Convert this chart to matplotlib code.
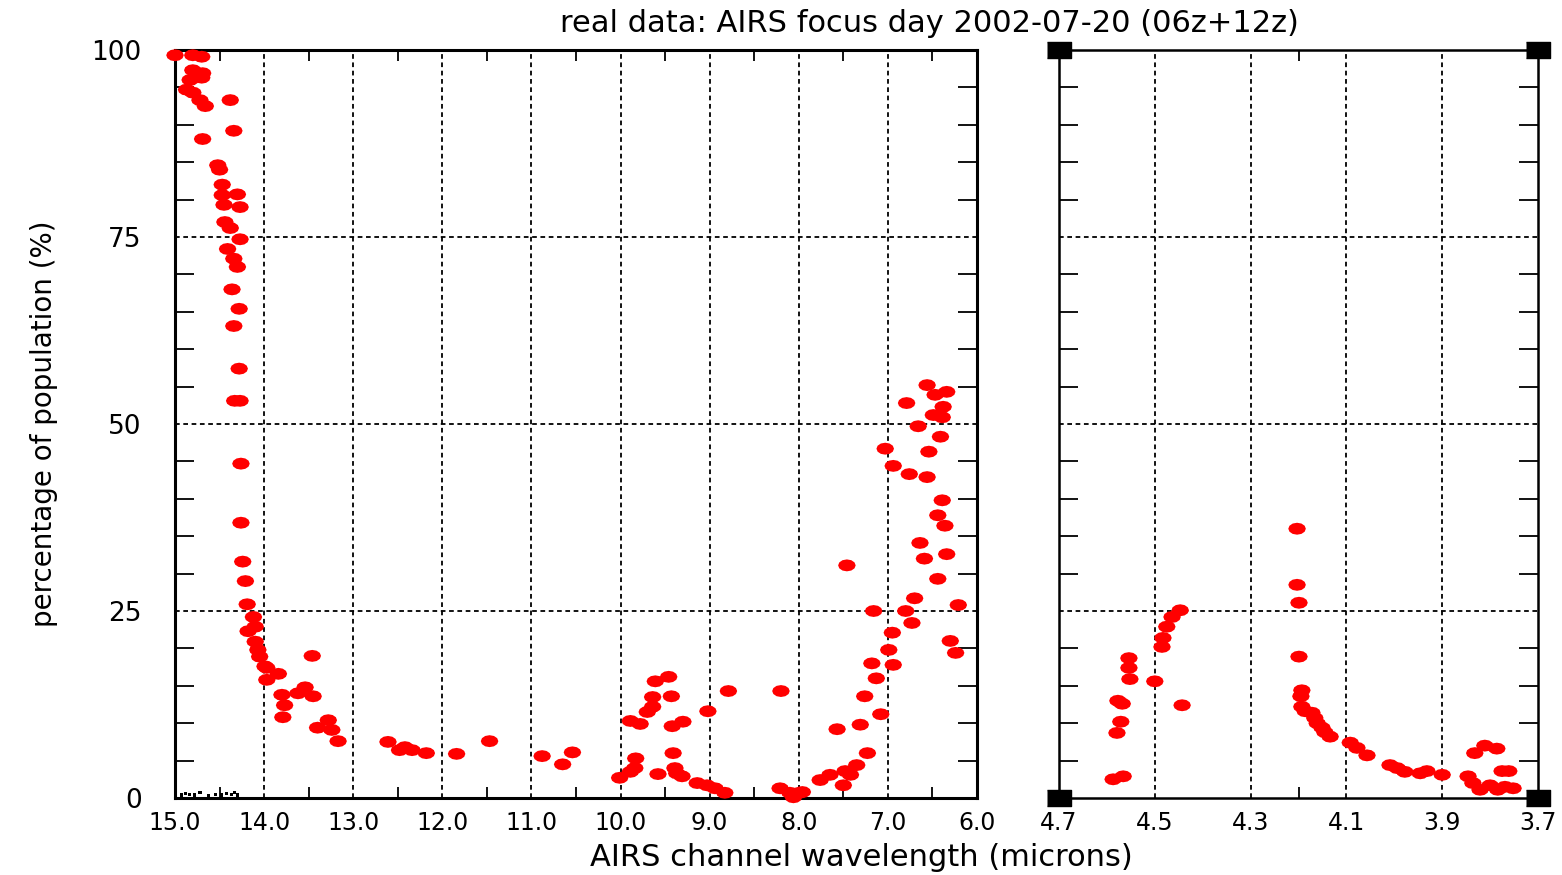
import numpy as np
import matplotlib
matplotlib.use("Agg")
import matplotlib.pyplot as plt
from matplotlib.ticker import FixedLocator

# Long-wave / mid-wave channels (left panel): wavelength (microns), population (%)
lw_wavelength = [
    15.00, 14.80, 14.70, 14.80, 14.69, 14.83, 14.70, 14.87, 14.80, 14.72,
    14.66, 14.38, 14.34, 14.69, 14.52, 14.50, 14.47, 14.47, 14.30, 14.45,
    14.27, 14.44, 14.38, 14.27, 14.41, 14.34, 14.30, 14.36, 14.28, 14.34,
    14.28, 14.27, 14.33, 14.26, 14.26, 14.24, 14.21, 14.19, 14.12, 14.10,
    14.18, 14.10, 14.07, 14.05, 13.99, 13.97, 13.97, 13.84, 13.46, 13.80,
    13.77, 13.79, 13.62, 13.54, 13.45, 13.40, 13.28, 13.24, 13.17, 12.61,
    12.48, 12.42, 12.34, 12.18, 11.84, 11.47, 10.88, 10.65, 10.54, 10.01,
    9.89, 9.84, 9.83, 9.89, 9.78, 9.61, 9.46, 9.64, 9.43, 9.64,
    9.70, 9.42, 9.30, 9.41, 9.58, 9.39, 9.37, 9.31, 9.14, 9.03,
    8.94, 8.83, 9.02, 8.79, 8.20, 8.21, 8.10, 7.99, 8.06, 7.96,
    7.76, 7.65, 7.57, 7.50, 7.48, 7.42, 7.35, 7.23, 7.31, 7.08,
    7.26, 7.13, 7.18, 6.94, 6.99, 6.95, 7.16, 6.80, 6.73, 6.70,
    6.30, 6.24, 6.21, 7.46, 6.44, 6.64, 6.59, 6.34, 6.39, 6.44,
    6.36, 7.03, 6.94, 6.76, 6.56, 6.54, 6.41, 6.66, 6.79, 6.49,
    6.39, 6.38, 6.56, 6.47, 6.34,
]
lw_percent = [
    99.3, 99.3, 99.1, 97.3, 96.9, 96.0, 96.3, 94.7, 94.3, 93.3,
    92.5, 93.3, 89.2, 88.1, 84.6, 84.0, 82.0, 80.6, 80.7, 79.3,
    79.0, 77.0, 76.2, 74.7, 73.4, 72.1, 71.0, 68.0, 65.4, 63.1,
    57.4, 53.1, 53.1, 44.7, 36.8, 31.6, 29.0, 25.9, 24.2, 22.9,
    22.3, 20.9, 19.8, 18.9, 17.6, 17.4, 15.8, 16.6, 19.0, 13.8,
    12.4, 10.8, 14.0, 14.8, 13.6, 9.4, 10.4, 9.1, 7.6, 7.5,
    6.4, 6.8, 6.4, 6.0, 5.9, 7.6, 5.6, 4.5, 6.1, 2.7,
    3.5, 4.0, 5.3, 10.3, 9.9, 15.6, 16.2, 13.5, 13.6, 12.2,
    11.5, 9.6, 10.2, 6.0, 3.2, 4.0, 3.3, 2.9, 2.0, 1.7,
    1.3, 0.7, 11.6, 14.3, 14.3, 1.3, 0.7, 0.7, 0.1, 0.8,
    2.4, 3.1, 9.2, 1.7, 3.6, 3.1, 4.4, 6.0, 9.8, 11.2,
    13.6, 16.0, 18.0, 17.8, 19.8, 22.1, 25.0, 25.0, 23.4, 26.7,
    21.0, 19.4, 25.8, 31.1, 29.3, 34.1, 32.0, 32.6, 39.8, 37.8,
    36.4, 46.7, 44.4, 43.3, 42.9, 46.3, 48.3, 49.7, 52.8, 51.2,
    50.9, 52.3, 55.2, 53.9, 54.3,
]

# Near-zero channels drawn as small black points along the baseline
lw_zero_wavelength = [14.93, 14.88, 14.84, 14.78, 14.72, 14.62, 14.55, 14.48,
                      14.42, 14.37, 14.33, 14.30]
lw_zero_percent = [0.4, 0.6, 0.5, 0.4, 0.7, 0.3, 0.5, 0.4, 0.6, 0.5, 0.7, 0.4]

# Short-wave channels (right panel)
sw_wavelength = [
    4.447, 4.464, 4.475, 4.483, 4.485, 4.554, 4.554, 4.552, 4.500, 4.577,
    4.568, 4.443, 4.571, 4.579, 4.587, 4.566, 4.203, 4.203, 4.199, 4.199,
    4.193, 4.195, 4.193, 4.186, 4.172, 4.166, 4.161, 4.151, 4.145, 4.134,
    4.092, 4.078, 4.057, 4.009, 3.994, 3.978, 3.946, 3.932, 3.900, 3.846,
    3.836, 3.821, 3.800, 3.832, 3.811, 3.786, 3.775, 3.761, 3.784, 3.769,
    3.752,
]
sw_percent = [
    25.1, 24.2, 22.9, 21.4, 20.2, 18.7, 17.4, 15.9, 15.6, 13.0,
    12.6, 12.4, 10.2, 8.7, 2.5, 2.9, 36.0, 28.5, 26.1, 18.9,
    14.4, 13.6, 12.2, 11.6, 11.4, 10.7, 10.0, 9.4, 8.8, 8.2,
    7.4, 6.7, 5.7, 4.4, 4.0, 3.5, 3.3, 3.6, 3.1, 2.9,
    2.0, 1.1, 1.7, 6.0, 7.0, 6.6, 3.6, 3.6, 1.1, 1.5,
    1.3,
]

title_text = "real data: AIRS focus day 2002-07-20 (06z+12z)"
xlabel_text = "AIRS channel wavelength (microns)"
ylabel_text = "percentage of population (%)"

lw_major = [15.0, 14.0, 13.0, 12.0, 11.0, 10.0, 9.0, 8.0, 7.0, 6.0]
lw_minor = [14.5, 13.5, 12.5, 11.5, 10.5, 9.5, 8.5, 7.5, 6.5]
sw_major = [4.7, 4.5, 4.3, 4.1, 3.9, 3.7]
sw_minor = [4.2]
y_major = [0, 25, 50, 75, 100]
y_minor = [5, 10, 15, 20, 30, 35, 40, 45, 55, 60, 65, 70, 80, 85, 90, 95]

W, H = 1562, 875
fig = plt.figure(figsize=(W / 100, H / 100), dpi=100)
fig.patch.set_facecolor("white")

# horizontally stretched dot used for every channel
t = np.linspace(0, 2 * np.pi, 13)[:-1]
dot = np.column_stack([np.cos(t), 0.68 * np.sin(t)])

grid_style = dict(color="black", linestyle=(0, (2.6, 2.0)), linewidth=1.3)
xtick_font = 17
ytick_font = 19


def px_rect(x0, y0, x1, y1):
    return [x0 / W, 1 - y1 / H, (x1 - x0) / W, (y1 - y0) / H]


def style_axes(ax, major, minor, show_ylabels):
    ax.set_ylim(0, 100)
    ax.xaxis.set_major_locator(FixedLocator(major))
    ax.xaxis.set_minor_locator(FixedLocator(minor))
    ax.yaxis.set_major_locator(FixedLocator(y_major))
    ax.yaxis.set_minor_locator(FixedLocator(y_minor))
    ax.set_xticklabels([f"{v:.1f}" for v in major], fontsize=xtick_font)
    if show_ylabels:
        ax.set_yticklabels([str(v) for v in y_major], fontsize=ytick_font)
    else:
        ax.set_yticklabels([])
    ax.tick_params(axis="both", which="both", direction="in",
                   top=True, right=True, color="black", width=1.3)
    ax.tick_params(axis="x", which="major", length=0, pad=9)
    ax.tick_params(axis="x", which="minor", length=8)
    ax.tick_params(axis="y", which="major", length=0, pad=24)
    ax.tick_params(axis="y", which="minor", length=14)
    for v in major[1:-1]:
        ax.axvline(v, zorder=1, **grid_style)
    for v in y_major[1:-1]:
        ax.axhline(v, zorder=1, **grid_style)
    for sp in ax.spines.values():
        sp.set_color("black")


# left panel
ax1 = fig.add_axes(px_rect(175, 50, 977, 798))
ax1.set_xlim(15.0, 6.0)
style_axes(ax1, lw_major, lw_minor, True)
for sp in ax1.spines.values():
    sp.set_linewidth(2.2)
ax1.scatter(lw_zero_wavelength, lw_zero_percent, marker="s", s=5,
            color="black", edgecolors="none", zorder=2)
ax1.scatter(lw_wavelength, lw_percent, marker=dot, s=160, color="#ff0000",
            edgecolors="none", zorder=3, clip_on=False)
ax1.set_ylabel(ylabel_text, fontsize=20, labelpad=24)

# right panel
ax2 = fig.add_axes(px_rect(1059, 50, 1538, 798))
ax2.set_xlim(4.7, 3.7)
style_axes(ax2, sw_major, sw_minor, False)
for sp in ax2.spines.values():
    sp.set_linewidth(1.8)
ax2.scatter(sw_wavelength, sw_percent, marker=dot, s=160, color="#ff0000",
            edgecolors="none", zorder=3, clip_on=False)

# corner handles on the short-wave frame
box = [(-1, -0.7), (1, -0.7), (1, 0.7), (-1, 0.7)]
ax2.scatter([0, 1, 0, 1], [0, 0, 1, 1], transform=ax2.transAxes, marker=box,
            s=300, color="black", zorder=5, clip_on=False)

fig.text(929 / W, 1 - 24 / H, title_text, fontsize=22, ha="center", va="center")
fig.text(861 / W, 1 - 858 / H, xlabel_text, fontsize=22, ha="center", va="center")

fig.savefig("out.png", dpi=100, facecolor="white")
